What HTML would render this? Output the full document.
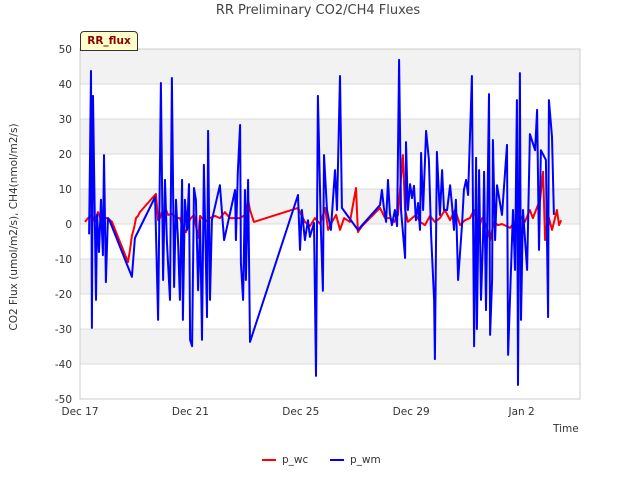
<!DOCTYPE html>
<html><head><meta charset="utf-8"><style>
body{margin:0;background:#fff;font-family:"DejaVu Sans",sans-serif}
</style></head><body>
<svg id="c" width="640" height="480" xmlns="http://www.w3.org/2000/svg" font-family="DejaVu Sans, sans-serif"></svg>
<script>
const yTicks=[-50,-40,-30,-20,-10,0,10,20,30,40,50];
const xTickDays=[0,4,8,12,16];
const xTickLabels=["Dec 17","Dec 21","Dec 25","Dec 29","Jan 2"];
const wmDays=[0.33,0.40,0.43,0.47,0.58,0.62,0.65,0.69,0.76,0.80,0.83,0.87,0.94,1.01,1.09,1.88,1.99,2.72,2.83,2.93,3.01,3.08,3.15,3.26,3.33,3.41,3.48,3.55,3.62,3.70,3.73,3.80,3.88,3.95,3.99,4.06,4.13,4.20,4.28,4.35,4.42,4.49,4.60,4.64,4.71,4.78,5.07,5.22,5.62,5.65,5.72,5.80,5.83,5.91,5.98,6.01,6.09,6.16,7.90,7.97,8.04,8.15,8.26,8.33,8.48,8.55,8.62,8.73,8.80,8.84,8.95,9.09,9.24,9.31,9.42,9.49,10.07,10.87,10.94,11.01,11.09,11.16,11.23,11.30,11.41,11.49,11.56,11.63,11.78,11.81,11.88,11.96,12.03,12.10,12.17,12.25,12.32,12.36,12.43,12.54,12.64,12.72,12.83,12.86,12.93,13.04,13.12,13.19,13.30,13.41,13.48,13.55,13.62,13.70,13.84,13.91,13.99,14.06,14.20,14.28,14.35,14.38,14.46,14.53,14.60,14.64,14.71,14.82,14.86,14.93,14.96,15.04,15.11,15.29,15.47,15.51,15.69,15.76,15.83,15.87,15.94,15.98,16.05,16.20,16.30,16.49,16.56,16.63,16.70,16.88,16.96,16.99,17.10,17.17];
const wmValues=[-2.9,43.7,-29.7,36.6,-21.7,2.6,-1.7,-8,6.9,-2.9,-8.9,19.7,-16.6,1.7,0.6,-15.1,-4,7.7,-27.4,40.3,-16,12.6,-5.1,-21.7,41.7,-18,6.9,-4.6,-21.7,12.6,-27.4,6.9,-1.7,11.4,-33.1,-34.9,10.3,6.9,-18.9,1.1,-33.1,16.9,-26.6,26.6,-21.7,1.1,11.1,-4.6,9.7,-4.6,15.4,28.3,-11.1,-21.7,9.7,-16,12.6,-33.7,8.3,-7.4,4,-4.6,1.1,-3.7,0.3,-43.4,36.6,-1.7,-19.1,19.7,4,-1.7,15.4,4,42.3,4.6,-1.7,5.4,9.7,4.6,0.6,12.6,2.9,-0.3,4,-0.6,46.9,4,-9.7,23.4,4,11.4,7.4,10.9,1.1,6,-1.7,20.3,4,26.6,18.3,-3.1,-21.7,-38.6,20.6,2.6,15.4,4,4,11.1,5.4,-1.7,6.9,-16,-0.3,9.7,12.6,8.3,42.3,-34.9,18.9,-30,15.4,-21.7,-4.6,14.9,-24.6,37.1,-31.7,-16,24,-4.6,11.1,2.6,22.6,-37.4,4,-13.1,35.4,-46,43.1,-27.4,4,-13.1,25.7,21.1,32.6,-7.4,21.1,18.3,-26.6,35.4,24.9,2.6];
const wcDays=[0.18,0.29,0.43,0.54,0.65,0.76,0.87,1.01,1.16,1.74,1.81,1.88,1.96,2.03,2.10,2.17,2.75,2.83,2.90,2.97,3.04,3.12,3.19,3.33,3.48,3.62,3.77,3.84,3.99,4.13,4.28,4.35,4.53,4.71,4.89,5.07,5.25,5.43,5.80,5.98,6.09,6.16,6.30,7.90,8.04,8.15,8.33,8.51,8.70,8.88,8.99,9.13,9.28,9.42,9.57,9.78,10.0,10.07,10.22,10.87,11.05,11.23,11.38,11.52,11.70,11.78,11.88,12.03,12.17,12.32,12.50,12.68,12.86,13.04,13.22,13.41,13.59,13.77,13.95,14.13,14.28,14.42,14.57,14.71,14.86,15.0,15.14,15.29,15.58,15.76,15.94,16.12,16.30,16.41,16.59,16.67,16.78,16.85,16.96,17.10,17.21,17.28,17.36,17.43];
const wcValues=[0.6,1.7,2.6,0.6,3.4,1.1,1.7,1.7,0.6,-10.9,-7.4,-3.4,-1.1,1.7,2.3,3.4,8.6,1.1,1.7,3.4,0.6,4,2.6,2.9,1.7,1.7,-1.7,-2.3,1.4,2.6,-4,2.3,0.6,1.7,2.3,1.7,3.4,1.7,1.7,2.6,6.9,4,0.6,4.6,2.3,0.6,-0.6,1.7,0,4.6,-1.7,0.6,2.6,-1.7,1.7,0.6,10.3,-2.3,-0.6,4.6,1.7,1.7,0.6,2.6,19.7,4,0.6,1.7,2.6,0.6,-0.3,2.3,0.6,1.7,4,1.1,4,-0.3,1.1,1.7,4,-1.7,1.7,-0.3,-4.6,0.6,-0.3,0,-1.1,0.6,2.6,0.6,4,1.7,5.4,6.9,14.9,-4.6,2.6,-1.7,1.7,4,-0.3,1.1];

const NS="http://www.w3.org/2000/svg";
const svg=document.getElementById('c');
const L=80,R=580,T=49,B=399;
const xs=d=>L+d*27.6;
const ys=v=>T+(50-v)*(B-T)/100;
function el(t,a,p){const e=document.createElementNS(NS,t);for(const k in a)e.setAttribute(k,a[k]);(p||svg).appendChild(e);return e;}

let bg=el('rect',{x:L,y:T,width:R-L,height:B-T,fill:'#fff'});


for(let i=0;i<yTicks.length-1;i++){
  if((yTicks.length-2-i)%2===0){
    const b=el('rect',{x:L,y:ys(yTicks[i+1]),width:R-L,height:ys(yTicks[i])-ys(yTicks[i+1]),fill:'#f2f2f2'});
    
    
  }
}
yTicks.forEach(v=>{
  const g=el('line',{x1:L,x2:R,y1:ys(v),y2:ys(v),stroke:'#dcdcdc','stroke-width':1});
  
  
  const t=el('text',{x:72,y:ys(v)+4,'text-anchor':'end','font-size':10.5,fill:'#333'});
  t.textContent=v;
  
  
});
let ax=el('rect',{x:L,y:T,width:R-L,height:B-T,fill:'none',stroke:'#ccc'});


xTickDays.forEach((d,i)=>{
  const t=el('text',{x:xs(d),y:415,'text-anchor':'middle','font-size':10.5,fill:'#333'});
  t.textContent=xTickLabels[i];
  
  
});
function series(days,vals,color,name){
  const p=el('polyline',{points:days.map((d,i)=>xs(d).toFixed(1)+','+ys(vals[i]).toFixed(1)).join(' '),fill:'none',stroke:color,'stroke-width':2,'stroke-linejoin':'round'});
  
  
}
series(wcDays,wcValues,'#ff0000','series-p-wc');
series(wmDays,wmValues,'#0000ff','series-p-wm');
</script>
<div style="position:absolute;left:0;top:0;width:640px;height:480px;pointer-events:none">
<div style="position:absolute;left:0;width:636px;top:3px;text-align:center;font-size:13px;color:#444">RR Preliminary CO2/CH4 Fluxes</div>
<div style="position:absolute;left:80px;top:31px;width:56px;height:18px;background:#ffffcc;border:1px solid #333;border-radius:4px 4px 0 0;font-size:10.5px;font-weight:bold;color:#8b0000;line-height:18px;text-align:center">RR_flux</div>
<div style="position:absolute;left:-91px;top:221px;width:210px;text-align:center;font-size:10.5px;color:#333;transform:rotate(-90deg)">CO2 Flux (umol/m2/s), CH4(nmol/m2/s)</div>
<div style="position:absolute;left:553px;top:423px;font-size:10.5px;color:#333">Time</div>
<div style="position:absolute;left:262px;top:454px;font-size:10.5px;color:#333"><span style="display:inline-block;width:14px;height:2px;background:#f00;vertical-align:middle;margin-right:6px"></span>p_wc</div>
<div style="position:absolute;left:330px;top:454px;font-size:10.5px;color:#333"><span style="display:inline-block;width:14px;height:2px;background:#00f;vertical-align:middle;margin-right:6px"></span>p_wm</div>
</div>
</body></html>
